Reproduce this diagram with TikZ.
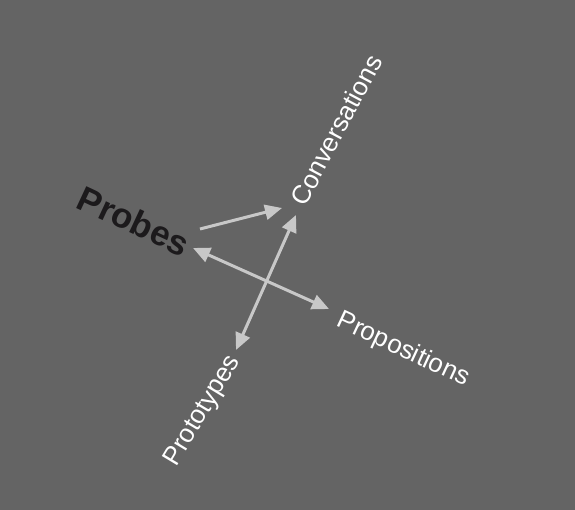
\documentclass[tikz,border=0pt]{standalone}
\usepackage{fontspec}
\setmainfont{Liberation Sans}
\usetikzlibrary{arrows.meta,calc}
\definecolor{bggray}{RGB}{100,100,100}
\definecolor{linkgray}{RGB}{200,200,200}
\definecolor{inkdark}{RGB}{28,26,28}
\begin{document}
\begin{tikzpicture}[x=1pt,y=-1pt,
  label/.style={text=white,font=\fontsize{26}{30}\selectfont,inner sep=0pt},
  hub/.style={text=inkdark,font=\fontsize{35}{40}\selectfont\bfseries,inner sep=0pt},
  link/.style={draw=linkgray,line width=3pt,-{Triangle[length=17pt,width=15pt]}},
  twoway/.style={draw=linkgray,line width=3pt,{Triangle[length=17pt,width=15pt]}-{Triangle[length=17pt,width=15pt]}}]
  \fill[bggray] (0,0) rectangle (575,510);
  \useasboundingbox (0,0) rectangle (575,510);
  % labels
  \node[hub,rotate=-25] (probes) at (134,221) {Probes};
  \node[label,rotate=62] (conv) at (336,130) {Conversations};
  \node[label,rotate=-25] (prop) at (403,350) {Propositions};
  \node[label,rotate=59] (proto) at (203,411) {Prototypes};
  % attachment points next to each label
  \coordinate (probesR) at ($(probes)+(66,8)$);
  \coordinate (probesE) at ($(probes)+(59,27)$);
  \coordinate (convS) at ($(conv)+(-54,78)$);
  \coordinate (convB) at ($(conv)+(-40,85)$);
  \coordinate (propW) at ($(prop)+(-74,-41)$);
  \coordinate (protoN) at ($(proto)+(33,-61)$);
  % connectors
  \draw[link] (probesR) -- (convS);
  \draw[twoway] (probesE) -- (propW);
  \draw[twoway] (convB) -- (protoN);
\end{tikzpicture}
\end{document}
